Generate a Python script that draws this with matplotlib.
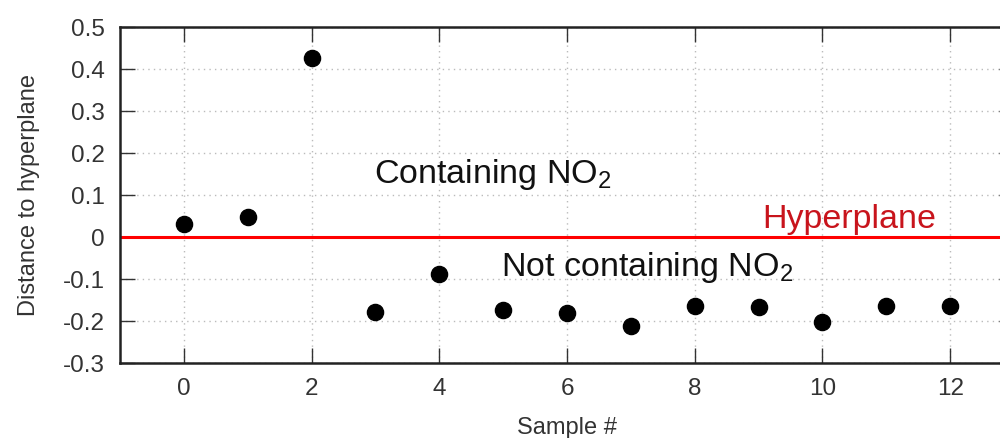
import numpy as np
import matplotlib
matplotlib.use('Agg')
from matplotlib import pyplot as plt

plt.rcParams['font.family'] = ['Liberation Sans', 'DejaVu Sans']
plt.rcParams['mathtext.fontset'] = 'custom'
plt.rcParams['mathtext.rm'] = 'Liberation Sans'
plt.rcParams['mathtext.default'] = 'regular'

# distance of each sample to the hyperplane
sample = np.arange(13)
distance = [0.03, 0.048, 0.426, -0.178, -0.088, -0.173, -0.180, -0.213,
            -0.164, -0.166, -0.202, -0.164, -0.164]
x_ticks = [0, 2, 4, 6, 8, 10, 12]
y_ticks = [-0.3, -0.2, -0.1, 0, 0.1, 0.2, 0.3, 0.4, 0.5]
y_tick_labels = ['-0.3', '-0.2', '-0.1', '0', '0.1', '0.2', '0.3', '0.4', '0.5']

fig = plt.figure(figsize=(10, 4.38), dpi=100)
ax = fig.add_axes([0.12, 0.1712, 0.894, 0.7671])

ax.axhline(0, color='#ff0000', lw=2.2, zorder=2)
ax.scatter(sample, distance, s=135, color='black', zorder=3)

ax.set_xlim(-1, 13)
ax.set_ylim(-0.3, 0.5)
ax.set_xticks(x_ticks)
ax.set_yticks(y_ticks)
ax.set_yticklabels(y_tick_labels)

ax.grid(True, linestyle=(0, (1, 3)), color='#bbbbbb', lw=1.0)
ax.set_axisbelow(True)
ax.tick_params(direction='in', length=11, width=1.0, color='#333333',
               labelsize=17.5, labelcolor='#333333', top=True, right=True, pad=11)
for s in ax.spines.values():
    s.set_linewidth(1.8)
    s.set_color('#222222')

ax.set_xlabel('Sample #', fontsize=17, color='#333333', labelpad=12)
ax.set_ylabel('Distance to hyperplane', fontsize=17, color='#333333', labelpad=16)

ax.text(2.97, 0.128, 'Containing NO$_2$', fontsize=24.5, color='#111111')
ax.text(4.97, -0.092, 'Not containing NO$_2$', fontsize=24.5, color='#111111')
ax.text(9.06, 0.021, 'Hyperplane', fontsize=24.5, color='#c8141c')

plt.savefig('out.png', dpi=100)
